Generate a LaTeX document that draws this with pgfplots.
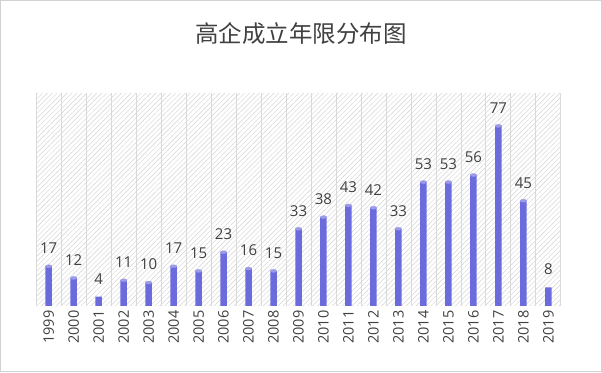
\documentclass[border=0pt]{standalone}
\usepackage{pgfplots}
\pgfplotsset{compat=1.18}
\usepackage{fontspec}
\setmainfont{Open Sans}
\newfontfamily\cjk{Noto Sans CJK SC}
\usetikzlibrary{patterns.meta}
\definecolor{barc}{HTML}{6B6BDD}
\definecolor{capc}{HTML}{9B9BE8}
\definecolor{txt}{HTML}{404040}
\begin{document}
\begin{tikzpicture}[x=1bp,y=1bp]
\draw[white] (0,0) rectangle (602,372);
\draw[gray!35] (0.5,0.5) rectangle (601.5,371.5);
\node[font=\cjk\fontsize{23.5bp}{26bp}\selectfont, text=txt] at (301,339) {高企成立年限分布图};
\begin{axis}[
  at={(36bp,66bp)}, anchor=south west,
  scale only axis, width=525bp, height=213bp,
  xmin=-0.5, xmax=20.5, ymin=0, ymax=91,
  axis background/.style={pattern={Lines[angle=45,distance=3.5pt,line width=0.45pt]}, pattern color=gray!35},
  axis line style={draw=none},
  tick style={draw=none},
  ytick=\empty,
  xtick={0,...,20},
  xticklabels={1999,2000,2001,2002,2003,2004,2005,2006,2007,2008,2009,2010,2011,2012,2013,2014,2015,2016,2017,2018,2019},
  xticklabel style={rotate=90, anchor=east, font=\fontsize{14.5bp}{16bp}\selectfont, text=txt, xshift=-1bp},
  /pgf/number format/assume math mode=true,
  minor xtick={-0.5,0.5,...,20.5},
  xminorgrids, minor grid style={gray!30, line width=0.8pt},
  clip=false,
]
\addplot[ybar, bar width=6.5bp, fill=barc, draw=none,
  nodes near coords, every node near coord/.append style={font=\fontsize{15bp}{17bp}\selectfont, text=txt, yshift=9bp}]
coordinates {(0,17)(1,12)(2,4)(3,11)(4,10)(5,17)(6,15)(7,23)(8,16)(9,15)(10,33)(11,38)(12,43)(13,42)(14,33)(15,53)(16,53)(17,56)(18,77)(19,45)(20,8)};
\addplot[only marks, color=capc, mark=*, mark size=3.25bp, mark options={yscale=0.45, fill=capc, draw=capc}]
coordinates {(0,17)(1,12)(3,11)(4,10)(5,17)(6,15)(7,23)(8,16)(9,15)(10,33)(11,38)(12,43)(13,42)(14,33)(15,53)(16,53)(17,56)(18,77)(19,45)};
\end{axis}
\end{tikzpicture}
\end{document}
